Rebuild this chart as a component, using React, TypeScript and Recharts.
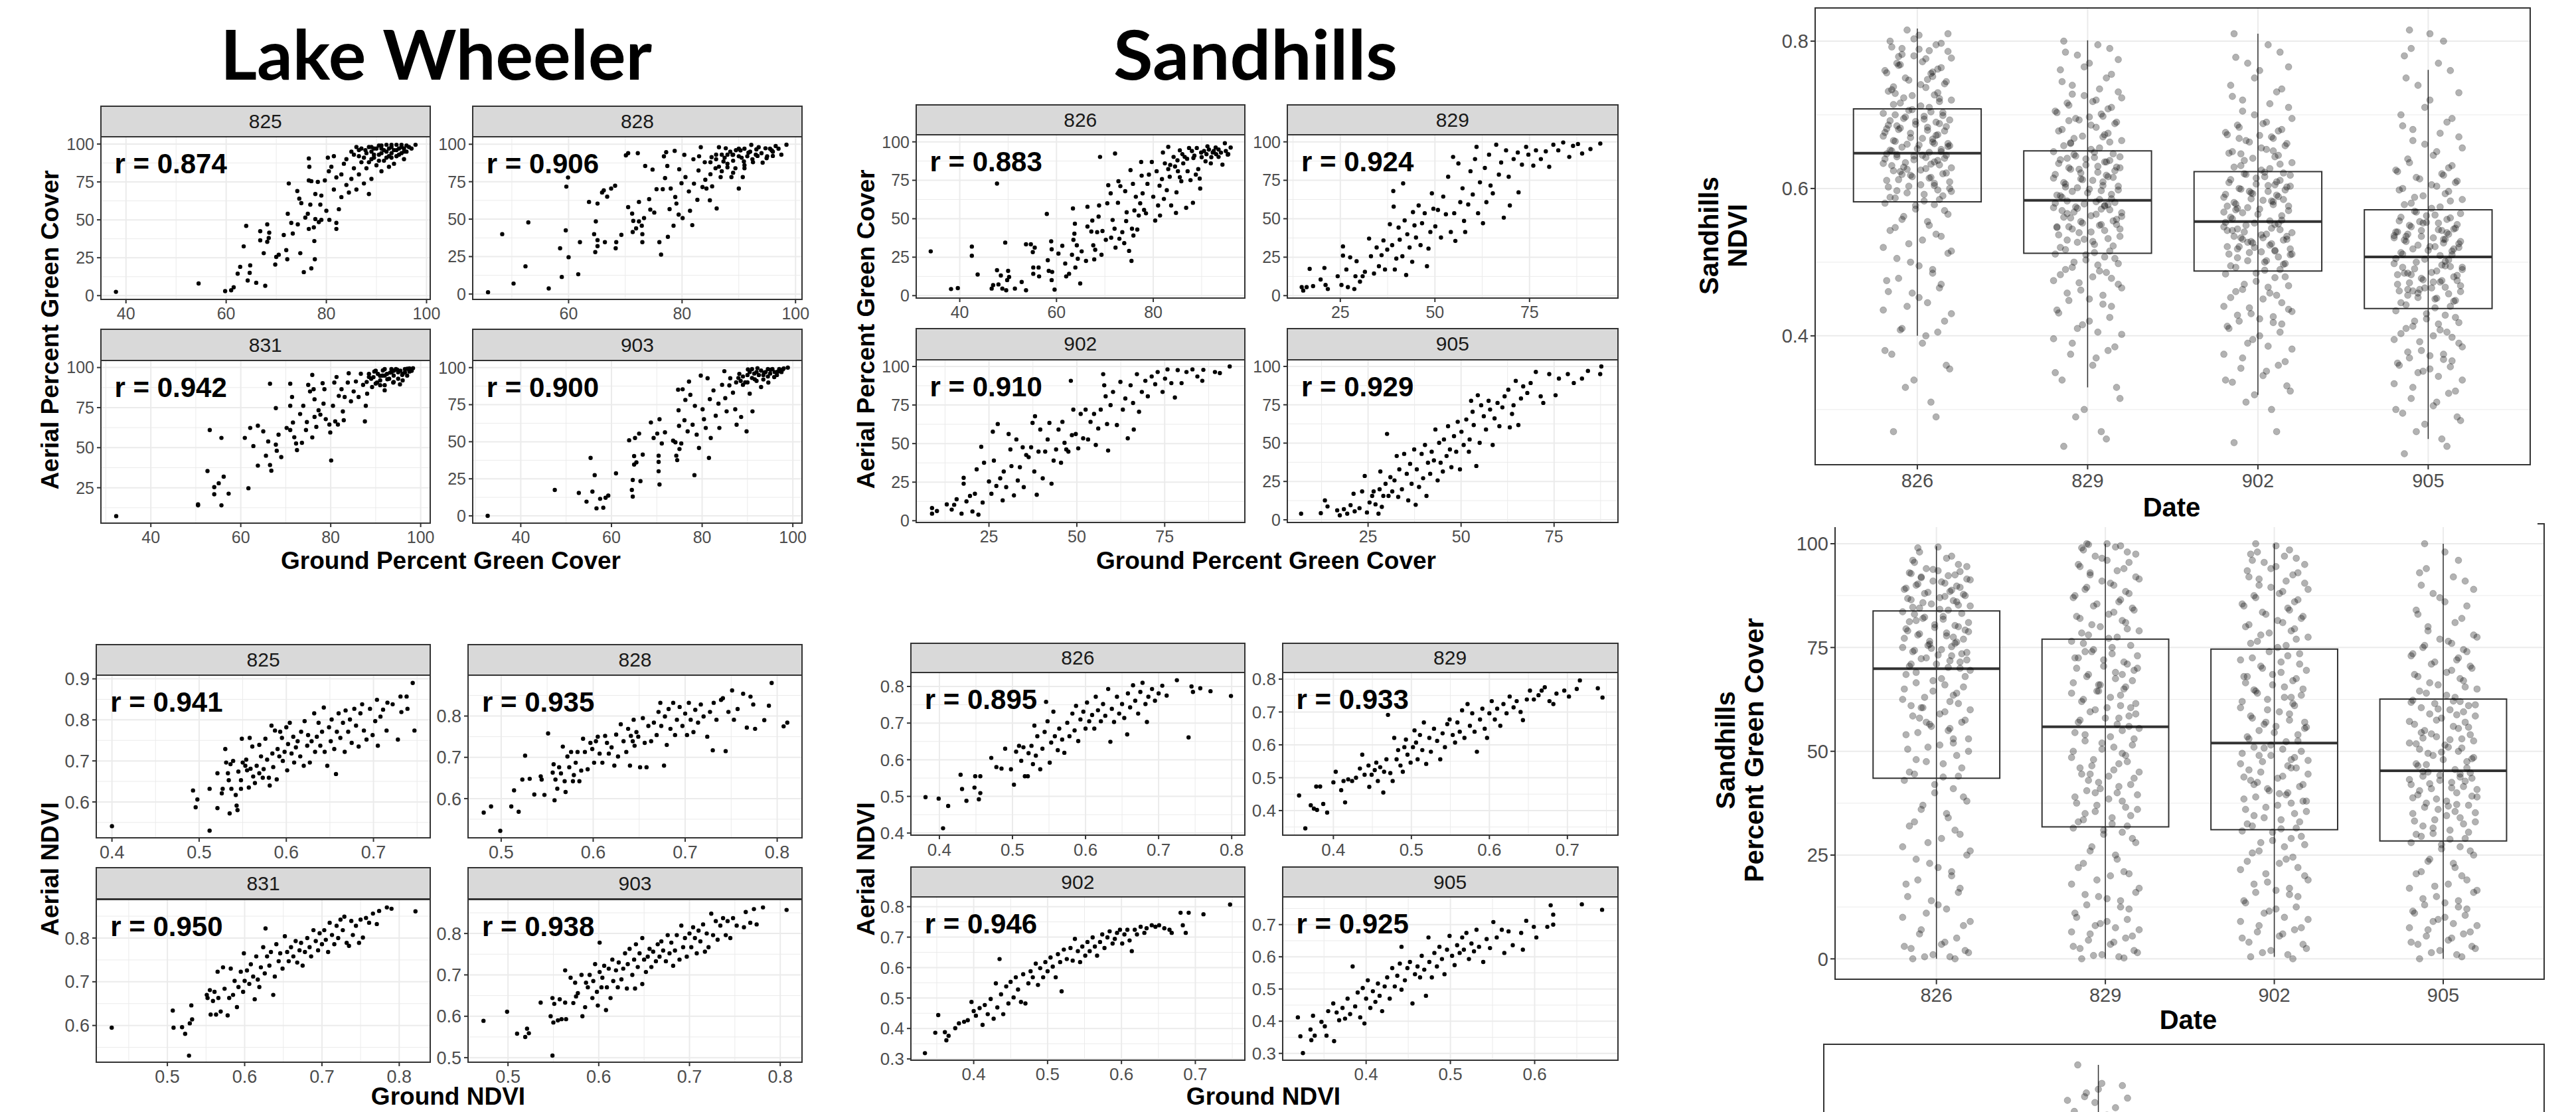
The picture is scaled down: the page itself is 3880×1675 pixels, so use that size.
import React from "react";
import {
  ScatterChart,
  Scatter,
  XAxis,
  YAxis,
  CartesianGrid,
  ReferenceArea,
  ReferenceLine,
} from "recharts";

document.body.style.margin = "0";
document.body.style.overflow = "hidden";

const FONT = "'Liberation Sans', Arial, Helvetica, sans-serif";
const TICK = "#4D4D4D";
const LINE = "#333333";
const GRID = "#EBEBEB";

// ---------- facet labels and correlations ----------
const lwDates = ["825", "828", "831", "903"];
const shDates = ["826", "829", "902", "905"];
const lwPctR = ["0.874", "0.906", "0.942", "0.900"];
const shPctR = ["0.883", "0.924", "0.910", "0.929"];
const lwNdviR = ["0.941", "0.935", "0.950", "0.938"];
const shNdviR = ["0.895", "0.933", "0.946", "0.925"];

// ---------- Lake Wheeler percent green cover (ground, aerial) pairs ----------
const lw825Pct = [38,2.5,54.5,8,59.8,3,61,3.5,61.5,5.5,62.3,14.5,62.8,19,63.5,32.5,64,46,64.3,10,64.7,15,64.8,20,66,8.5,66.8,42.5,66.8,36.5,67.5,28,67.8,6.5,68.2,47,68.2,35.5,68.5,38,68.6,41.5,69.8,20.5,70,25.5,70.5,27,71.5,40,72,30,72.2,24,72.3,54,72.5,74,73,48,73.3,41,74.3,47,74.8,28,74.2,69,74.6,64,75,61,75.5,15.5,75.8,51.5,76.3,54,76.5,44,76.5,76,76.8,60,76.5,90.5,76.6,85,77,75.5,77.5,45,77.7,24,77.6,36,77.8,67,77.8,50.5,77,18,78.3,75,78.5,48.5,78.8,60,79,66,79,50,79.7,76,80,56,80.3,91,80.5,82,81,85,80.6,50,81.5,92,81.5,70,82,44,82,78,82,48,82.5,57,83,65,83,80,83.5,87,84,73,84,90,84.5,68,85,95,85,77,85.5,84,86,70,86.5,92,86.5,80,87,88,87.5,74,87.8,96,88,84,88.5,67,89,90,89,77,89.5,97,90,86,90.5,93,91,82,91,97,91.5,89,92,95,92.5,85,93,98,93,91,93.5,87,94,96,94.5,93,95,98,95.5,90,95.5,95,96,99,97.8,99.5,86,98,88.5,98,90.5,99,92,99.5,94,99.5,89.5,93,92.5,92,85.5,93,86.5,96,87.5,91,88,94,88.5,88,89,95,89.5,91,90,97,90.5,89,91,94,91.5,96,92,91,92.5,97,93,94,93.5,96,94,92,94.5,97,95,94,95.5,97,96,95,96.5,98,97,97,91,99,89,98,87,97,93,99.5,95,99.5];
const lw828Pct = [45.8,1.2,48.3,40,50.3,7,52.4,18.5,52.9,47.8,56.5,3.7,58.5,30.5,58.8,11.4,59.5,42.5,59.6,71.7,59.9,77.8,60,24.6,61.7,13.2,62,34.6,63.6,61.5,64.5,40,64.7,28,64.8,48.5,65.1,60.4,65.1,36,65.1,32,65.9,67.8,66.2,69.2,66.4,34.6,66.8,65,67.5,70.4,68.2,72.3,68.3,30.5,68.4,34.6,69.3,39.5,70.1,92.6,70.5,94,70.5,58,71.2,53.7,71.3,41.4,71.4,48.8,71.9,43.8,72.2,94,72.4,61.5,72.4,48.5,72.9,45.6,73,40,73,34.6,73.3,50.7,73.5,85.5,74.2,63.3,74.4,56.4,74.8,83.1,75.1,54.4,75.5,70,76,34.6,76.3,26.3,76.6,70,76.8,91.9,77,77.4,77.2,94.7,77.4,85.5,77.5,38.2,77.8,56.7,78,70.4,78.5,45.6,78.7,95.6,78.8,64.8,79,60.4,79.4,53,79.5,83.3,79.9,74,80.1,50.7,80.4,92.9,80.6,78.1,81.2,68.5,81.4,55.6,81.8,46,82,90,82.1,73.7,82.7,62.9,82.9,82.5,83.3,98,83.6,71.4,84.1,76.3,84.3,70.4,84.9,62.6,85.2,91.4,85.3,71.9,85.9,84,86.1,57.1,86.5,98,86.8,78.1,87.3,88.5,87.7,97.3,88,84.6,88.7,78.1,88.9,92.9,89.4,84,90,70.4,90.3,95.9,90.7,78.1,90.9,88.5,91.7,94.4,92.2,99.6,92.4,90,93.1,96.6,93.3,92.2,94.2,87.7,94.7,97.3,94.9,90.7,95.8,95.9,96.5,98.8,96,92.2,98.4,99.7,86,90,87,93,88.5,95,89,89,90,92,91,97,86.5,85,84,88,83,92,85,80,87.5,91,88,87,89,93,89.5,96,90.5,91,91,86,91.5,92,92,95,92.5,88,93,93,93.5,98,94,94,95,92,95.5,97,96,95,97,97,97.5,93,90,97,88,93,86,93,85,88,87,82,89,81,91,84];
const lw831Pct = [32.3,7.3,50.5,14.6,50.5,14,52.6,35.4,53.1,61,54.1,25.4,54.1,20.9,55.1,27.8,55.7,56.1,55.7,14,56.2,31.9,57.3,21.3,60.9,56.1,61.7,24.7,62.1,62.3,62.8,51,63.8,63.7,63.8,38.8,65,60.2,65.6,45,66.1,53.9,66.5,89.9,66.5,39.2,66.8,35.6,67.8,74.7,67.8,51.9,68,48.1,68.4,58.1,69,44.1,70.2,62.3,71,89.9,71,61,71,76.1,71.4,81.6,71.6,65.7,71.9,56.5,72.3,52.6,72.5,48.5,73.2,71,73.6,53,73.9,76.1,74.5,61,74.7,66,75,89.2,75.4,85.1,75.9,95.4,75.9,56.4,76.2,86.5,76.4,80.2,76.4,69.2,76.8,63,77.3,73.3,77.7,70.6,78.2,90.2,78.4,77.5,78.6,86.5,78.9,67.8,79.7,64.4,79.9,59.5,80.1,42,80.5,76.1,80.8,90.6,81,66.4,81.3,94.1,81.6,64.4,81.8,82.3,82.4,86.5,82.7,72.6,82.9,67.1,83.1,81.6,83.8,90.6,84,96.4,84.5,78.9,85.1,85.1,85.6,91.3,86.2,81.6,86.7,96.1,87.2,89.2,87.6,66.4,87.8,76.1,88.1,83.7,88.5,94.1,89.2,87.8,89.7,97.5,90.3,90.6,91,94.8,91.6,98.2,92,85.8,92.6,92.7,93.2,96.8,93.9,90.6,94.8,98.6,95.4,89.5,95.9,95.4,97,99.2,98.3,99.6,97.5,97.5,89,93,90.5,96,92,95,93.5,99,95,97,91,89,88,91,88.5,96,89.5,94,90,98,91,92,91.5,95,92,99,92.5,96,93,93,93.5,97,94,95,94.5,99,95,93,95.5,98,96,96,96.5,99,97,95,97.5,99.5,98,98,96,92,94,91,90,90,92,89,94,98,96.5,97];
const lw903Pct = [32.7,0,47.5,17.5,52.8,15.5,54.5,9.6,55.4,39.1,55.8,16.4,56.3,27.5,56.7,5.1,57.5,11.5,58.2,5.5,58.7,12.2,59.3,13.7,61,28.7,63.9,51,64.5,17.5,64.7,24.2,64.7,13,65,34.6,65,40.3,65.2,52.5,65.5,36.1,66.1,55.5,66.4,23.4,66.9,41.3,68.7,63,69.3,52.5,70.1,55.5,70.4,40.6,70.4,36.4,70.4,30.1,70.6,21.2,70.6,65.2,71.1,48.8,71.8,56.3,73.6,50.7,74.1,49.6,74.3,40.6,74.5,37.6,74.7,85.1,74.8,71.2,74.9,60.7,75,45.1,75.4,48.8,75.7,85.4,76.1,64.5,76.3,78.2,76.8,57,77.1,90.6,77.4,81.6,77.9,61.5,78.3,27.5,78.4,74.2,78.8,54.8,79.3,45.8,79.7,94.6,80.1,71.9,80.4,65.2,80.8,59.3,81.2,92.8,81.5,39.1,81.7,78.7,81.9,52.5,82.5,84.6,83,67.5,83.6,75.7,83.8,59.3,84.4,88.4,84.9,97.6,85.1,79.4,85.4,70.5,86.2,92.8,86.8,83.1,87.3,71.9,87.6,61.5,88.2,95.8,88.6,66.7,89,88.4,89.8,57,90.1,98.8,90.5,82.4,91.1,70.5,91.6,92.1,92.2,99.6,93,86.9,93.7,96.6,94.6,89.9,95.1,98.5,95.9,93.6,96.7,97.3,97.8,98.8,98.9,100,88,93,90,95,92,97,93.5,92,89.5,90,86,88,89,94,90.5,97,91,93,91.5,96,92.5,95,93,98,93.5,95,94,97,94.5,94,95,96,95.5,99,96,97,96.5,95,97,99,97.5,97,98,99.5,92,91,90,90,88.5,91,87.5,90,91,99,94.5,99];

// ---------- Sandhills percent green cover (ground, aerial) pairs ----------
const sh826Pct = [34,28.8,38.2,4.3,39.6,4.9,42.5,31.9,42.5,25.9,43.7,13.7,46.6,4.6,46.9,6.8,47.7,72.9,47.7,16.5,48,7.3,48.5,13.1,48.8,4.6,49.4,34.5,49.6,3.5,49.8,10.1,50,16.1,50.2,12.1,51.4,4.6,52.8,8.9,53.7,3.5,53.7,33.4,54.7,33.4,55.1,28.3,55.2,18.3,55.2,14.2,55.5,31.2,56.3,18.3,56.4,12.5,58,53.1,58.2,23,58.4,16.1,58.9,35.3,59,30.1,59,10.1,59.1,15.4,59.6,3.9,60.4,27.3,61.2,32.4,61.8,20.9,62,12.5,62.6,14.2,63.2,26.6,63.4,56.7,63.5,36.3,63.7,40.3,63.8,46.8,63.9,18.3,64.2,32.7,64.4,24,64.9,7.9,65.2,28.8,66.1,22.6,66.4,57.8,66.4,44.9,67.2,41.7,67.4,48.8,67.6,32.7,67.8,23.6,68,29.8,68.4,41.3,68.7,51.4,68.8,58.6,69,90.2,69.3,26.6,69.5,42,70.2,36.3,70.5,60,70.7,71.8,71.2,66.5,71.3,37.7,71.6,49.2,72,43.5,72.1,92.4,72.2,31.2,72.7,60.4,72.8,74.4,73,37,73.2,71.2,73.6,41.3,74,34.1,74.2,67.9,74.4,48.5,74.5,54.2,75,29.1,75.3,81.6,75.5,22.6,75.6,43.5,75.8,72.7,75.9,39.1,76.1,55.4,76.4,64.3,76.7,43,77,52.1,77.3,60,77.5,86.9,77.6,78,77.8,66.5,78.1,55.7,78.5,53.5,78.8,72.7,79.1,78.7,79.7,86.9,80,64.3,80.4,48.8,80.7,80.9,81,58.6,81.3,71.5,81.4,52.1,81.8,75.8,82,93.1,82.2,62.9,82.4,86,82.8,68.6,83.1,96.7,83.1,82.3,83.4,77.3,83.7,58.6,84.2,90.2,84.7,53.8,84.8,67.2,85.1,80.9,85.5,94.5,85.8,74.4,86.2,86,86.5,90.2,86.8,57.1,87.1,80.9,87.4,96,87.7,75.1,88.2,60.4,88.3,89.5,88.8,78.7,89.3,82.3,89.6,76.1,89.7,69.6,89.9,93.1,90.8,87.3,91.2,97.1,91.9,86,92.3,93.1,92.9,96.3,93.5,90.2,94.3,85.2,94.8,99.1,95.4,91.7,96,96.3,85,88,86,92,87,89,88,94,88.5,91,89,96,90,90,90.5,94,91,92,91.5,95,92,90,92.5,94,93,92,93.5,95,94,93,95,94,95.5,92,83.5,85,84.5,84,85.5,77];
const sh829Pct = [14.8,5.5,15.2,3.3,16.1,5.5,16.9,17.4,17.8,6.2,19.8,10.5,20.8,18,21.1,6.9,21.7,4.3,24.3,12.6,25.3,6.9,25.7,32,25.7,26,26.6,17,27,5.5,27.6,24.9,28.7,4.3,29,12.6,29.3,22.4,30.2,9.1,30.9,12.6,31.5,15.5,32.6,37.1,33.1,25.6,33.9,14.4,34.6,31.3,35.2,19.1,35.9,26.3,36.4,35.9,36.8,17,37.4,29.9,38.1,46.4,38.7,32.8,39,68,39.1,57.9,39.4,17,39.8,24.1,40.4,44.3,40.7,36.4,41.4,25.6,41.6,73,42,48.9,42.4,13.4,42.7,39.9,43.3,31.3,44,22,44.2,54.3,44.6,45.7,45,37.8,45.7,58.6,46.2,32.8,46.6,47.1,47.3,53.6,47.9,19.1,48.3,30.6,48.8,41.4,49.2,66.5,49.6,56.5,50.1,45,50.8,55.7,51.6,37.8,52.2,64.4,52.9,52.9,53.5,77.3,54.2,41.4,54.8,90.2,55.1,53.6,55.4,35.6,56.2,85.9,56.7,60.8,57.3,69.8,57.7,48.6,58,41.4,58.8,59.3,59.4,80.9,60,65.8,60.6,88.8,61,96.7,61.4,53.6,61.9,73.7,62.7,47.1,63.2,83,63.6,60.8,64.3,91.7,64.7,71.6,65.3,66.5,66.2,98.1,66.9,78.7,67.5,86.6,68.2,50.7,68.8,94.5,69.5,77.3,69.8,58.6,70.8,88.8,71.9,93.1,72.1,67.2,73,85.2,74.1,96.7,74.7,91.7,76,84.5,76.7,94.5,78,88.8,79.3,93.8,80.2,83.8,81.3,98.1,82.6,94.5,83.9,99.6,85.5,90.2,86.5,97.4,87.8,98.6,88.9,92.4,91.1,95.3,93.7,98.9];
const sh902Pct = [8.8,4.6,8.8,8.2,10.2,6.3,13,10.6,14.4,7.2,15.1,10.3,15.8,13.9,17.2,4.6,17.8,27.8,17.8,24,18.6,12.5,19.6,16.1,20.3,6,21,17.5,21.5,33.3,22,3.9,22.8,47.9,23.2,11.8,23.6,37.6,25,25.4,25.7,17.5,26.1,57.7,26.4,39,27.1,22.5,27.5,62.7,28.2,27.5,28.9,13.2,29.2,31.9,29.9,21.8,30.6,56.2,31.1,46.2,31.4,35.4,32.1,16.4,32.8,52.7,33.2,26.1,33.8,34.7,34.6,47.6,34.9,21.8,35.6,42.6,36.3,41.2,37,47.6,37.4,63.4,37.9,31.9,38.1,67.7,38.6,16.8,39.1,44.8,39.6,59.1,40.3,27.5,41,44.8,41.7,52.7,42.2,63.4,42.8,24,43.4,39,44.1,46.2,44.8,59.1,45.5,37.6,45.9,64.1,46.5,50.5,47,46.2,47.6,44.8,48.3,90.7,48.6,55.5,49,72,49.7,56.2,50.4,46.9,51.1,69.2,51.8,53.4,52.5,72,53.2,52.7,53.9,64.1,54.9,69.2,55.4,49.1,56.1,59.8,56.8,72,57.5,95,57.8,87.8,58.2,80.6,58.6,62.7,58.9,45.5,59.6,74.9,60.3,83.5,61.4,62,62.4,90,63.1,72,63.8,79.2,64.5,53.4,65.3,87.8,66,76.3,66.2,59.1,67.1,95,67.7,70.6,68.5,83.5,69.5,90.7,70.2,80.6,71.3,93.5,72.3,88.5,73,96.4,74.4,83.5,75.1,92.1,75.8,98.1,76.9,89.2,77.9,79.9,78.7,97.6,79.8,89.2,81.2,96.4,82.9,98.1,84.3,93.5,85.7,90.7,86,97.8,89.3,96.4,90.7,95.7,93.5,100];
const sh905Pct = [7,4,12.3,4.3,13.4,12.7,14.1,8.7,16.7,6.2,17.4,2.9,18.5,6.9,19.4,4,20.3,9.5,21.1,17,21.4,5.5,22.7,7.6,23.4,18.5,24.1,28.6,24.7,4.8,25.4,11.3,26.1,15.6,26.5,18.5,27,10.1,27.8,4,28.1,19.9,28.3,31.5,28.7,8.4,29.1,15.6,29.7,23.5,30.1,56,30.5,15.6,31,27.8,31.5,18.5,32.1,25.7,32.7,41.6,33.1,14.9,33.4,32.9,34.1,19.9,34.7,43,35.4,30,35.8,12.7,36.3,36.5,36.7,23.5,37.4,45.9,37.8,9.8,38.1,32.9,38.7,21.4,39.4,43,39.8,27.1,40.3,48.8,40.7,15.6,41.1,37.2,41.7,30,42.1,44.4,42.7,38.7,43.1,58.9,43.7,25.7,44.1,50.2,44.5,37.2,45.1,31.5,45.4,52.4,46.1,41.6,46.5,61,47,45.9,47.4,34.3,48.1,54.5,48.7,44.4,49.1,63.9,49.7,32.9,50.1,57.4,50.7,48.8,51.4,65.4,52.1,44.4,52.3,52.4,52.7,77.6,53.1,70.4,53.4,61.8,54.1,35.1,54.5,81.2,55,50.2,55.4,74.7,56.1,67.5,56.7,58.9,57.4,77.6,57.8,71.9,58.5,48.8,59,66.1,59.8,76.2,60.3,61,61.1,73.3,61.7,80.5,62.7,84.8,63.1,60.3,63.7,69,64.1,74.7,64.7,90.6,65.4,61.8,66.1,79.1,66.7,87,67.8,82.7,68.7,89.2,70.1,96.4,71.4,80.5,72.1,76.2,73.7,95,75.4,81.2,76.3,92.1,78.7,95,80.3,89.2,82.5,92.1,84.1,97.1,87.4,95,87.7,100];

// ---------- Lake Wheeler NDVI (ground, aerial) pairs ----------
const lwN825 = [0.4,0.541,0.493,0.628,0.496,0.587,0.498,0.606,0.512,0.53,0.512,0.632,0.521,0.67,0.521,0.585,0.526,0.621,0.527,0.632,0.53,0.729,0.531,0.696,0.533,0.67,0.534,0.653,0.535,0.572,0.536,0.692,0.537,0.632,0.539,0.7,0.542,0.617,0.543,0.591,0.544,0.58,0.545,0.674,0.548,0.632,0.548,0.653,0.549,0.754,0.55,0.696,0.553,0.688,0.554,0.703,0.555,0.677,0.557,0.635,0.558,0.756,0.559,0.681,0.561,0.735,0.562,0.662,0.564,0.646,0.566,0.688,0.569,0.739,0.569,0.67,0.571,0.711,0.573,0.659,0.574,0.68,0.576,0.754,0.578,0.703,0.58,0.659,0.581,0.64,0.583,0.786,0.584,0.718,0.585,0.685,0.587,0.774,0.589,0.655,0.59,0.729,0.592,0.711,0.593,0.771,0.595,0.756,0.596,0.7,0.598,0.722,0.6,0.782,0.601,0.677,0.602,0.741,0.604,0.793,0.606,0.718,0.608,0.759,0.609,0.696,0.611,0.733,0.613,0.748,0.616,0.711,0.617,0.771,0.62,0.688,0.621,0.797,0.624,0.737,0.625,0.763,0.627,0.696,0.629,0.748,0.632,0.816,0.633,0.722,0.635,0.759,0.637,0.793,0.639,0.737,0.641,0.771,0.643,0.83,0.644,0.722,0.647,0.688,0.649,0.782,0.651,0.748,0.652,0.801,0.655,0.729,0.657,0.668,0.658,0.771,0.66,0.816,0.662,0.756,0.665,0.793,0.667,0.722,0.668,0.823,0.671,0.771,0.673,0.801,0.675,0.744,0.678,0.827,0.68,0.786,0.683,0.735,0.685,0.816,0.687,0.838,0.689,0.774,0.692,0.752,0.696,0.827,0.699,0.763,0.702,0.797,0.704,0.849,0.705,0.737,0.708,0.808,0.711,0.825,0.715,0.774,0.716,0.842,0.722,0.838,0.728,0.752,0.731,0.857,0.732,0.819,0.738,0.857,0.739,0.827,0.745,0.89,0.747,0.774];
const lwN828 = [0.481,0.566,0.489,0.581,0.499,0.522,0.511,0.581,0.514,0.62,0.519,0.568,0.523,0.646,0.526,0.704,0.531,0.648,0.536,0.61,0.543,0.654,0.544,0.646,0.547,0.609,0.551,0.758,0.556,0.663,0.557,0.683,0.558,0.596,0.559,0.646,0.561,0.624,0.563,0.676,0.565,0.661,0.567,0.726,0.569,0.642,0.57,0.616,0.572,0.702,0.574,0.676,0.576,0.713,0.578,0.642,0.579,0.657,0.581,0.687,0.583,0.713,0.585,0.642,0.587,0.668,0.589,0.745,0.591,0.713,0.594,0.671,0.597,0.735,0.599,0.72,0.601,0.687,0.603,0.739,0.605,0.75,0.607,0.709,0.61,0.687,0.613,0.752,0.615,0.735,0.617,0.709,0.62,0.724,0.623,0.68,0.625,0.755,0.627,0.702,0.63,0.78,0.633,0.739,0.636,0.713,0.638,0.769,0.64,0.68,0.641,0.752,0.643,0.739,0.644,0.791,0.645,0.728,0.647,0.761,0.649,0.75,0.651,0.676,0.654,0.795,0.656,0.735,0.658,0.676,0.66,0.776,0.663,0.739,0.666,0.784,0.669,0.754,0.671,0.81,0.673,0.832,0.674,0.776,0.677,0.68,0.678,0.799,0.68,0.73,0.682,0.817,0.684,0.769,0.687,0.832,0.689,0.754,0.691,0.791,0.694,0.822,0.697,0.776,0.7,0.806,0.702,0.754,0.704,0.832,0.706,0.791,0.709,0.761,0.711,0.815,0.714,0.784,0.717,0.828,0.72,0.799,0.724,0.75,0.727,0.81,0.73,0.717,0.731,0.832,0.734,0.791,0.739,0.839,0.741,0.843,0.744,0.715,0.747,0.81,0.751,0.862,0.753,0.791,0.757,0.817,0.763,0.854,0.767,0.772,0.771,0.847,0.774,0.828,0.776,0.769,0.786,0.79,0.791,0.825,0.794,0.88,0.807,0.775,0.811,0.784];
const lwN831 = [0.428,0.595,0.507,0.634,0.508,0.595,0.519,0.596,0.523,0.581,0.528,0.531,0.529,0.605,0.531,0.646,0.532,0.614,0.551,0.67,0.552,0.663,0.555,0.681,0.556,0.625,0.559,0.656,0.561,0.677,0.563,0.625,0.565,0.723,0.566,0.663,0.569,0.632,0.572,0.733,0.574,0.684,0.578,0.623,0.58,0.663,0.582,0.73,0.585,0.67,0.587,0.702,0.59,0.642,0.592,0.688,0.595,0.723,0.598,0.677,0.599,0.765,0.6,0.702,0.603,0.726,0.606,0.695,0.608,0.74,0.611,0.712,0.613,0.66,0.615,0.758,0.617,0.705,0.619,0.688,0.621,0.733,0.624,0.779,0.626,0.719,0.627,0.822,0.629,0.758,0.632,0.737,0.634,0.768,0.637,0.67,0.639,0.712,0.641,0.786,0.644,0.747,0.646,0.765,0.649,0.73,0.652,0.804,0.655,0.768,0.657,0.747,0.66,0.779,0.663,0.758,0.666,0.793,0.668,0.744,0.671,0.772,0.673,0.789,0.675,0.737,0.678,0.768,0.681,0.8,0.684,0.779,0.686,0.758,0.689,0.818,0.692,0.793,0.695,0.772,0.697,0.811,0.7,0.786,0.703,0.818,0.705,0.796,0.708,0.768,0.71,0.835,0.713,0.807,0.716,0.786,0.719,0.828,0.721,0.8,0.724,0.842,0.727,0.818,0.729,0.849,0.732,0.789,0.735,0.782,0.738,0.839,0.74,0.807,0.744,0.828,0.748,0.789,0.75,0.842,0.753,0.801,0.757,0.846,0.761,0.835,0.766,0.856,0.771,0.832,0.774,0.862,0.784,0.87,0.79,0.867,0.821,0.861];
const lwN903 = [0.473,0.589,0.499,0.611,0.51,0.558,0.519,0.55,0.521,0.57,0.523,0.559,0.536,0.633,0.547,0.6,0.549,0.644,0.549,0.505,0.55,0.585,0.551,0.63,0.555,0.59,0.557,0.641,0.559,0.593,0.563,0.633,0.564,0.593,0.563,0.711,0.569,0.693,0.572,0.632,0.574,0.681,0.575,0.648,0.577,0.656,0.581,0.7,0.582,0.6,0.585,0.622,0.586,0.681,0.588,0.67,0.59,0.7,0.593,0.644,0.594,0.685,0.596,0.726,0.598,0.659,0.599,0.626,0.601,0.707,0.601,0.778,0.603,0.67,0.604,0.693,0.606,0.722,0.608,0.615,0.609,0.67,0.611,0.715,0.613,0.644,0.615,0.737,0.616,0.685,0.619,0.711,0.621,0.67,0.622,0.73,0.625,0.689,0.627,0.715,0.629,0.752,0.631,0.667,0.632,0.726,0.634,0.763,0.637,0.7,0.639,0.737,0.64,0.667,0.641,0.774,0.643,0.719,0.645,0.752,0.648,0.678,0.648,0.789,0.65,0.737,0.652,0.707,0.654,0.744,0.656,0.763,0.658,0.719,0.66,0.756,0.663,0.733,0.665,0.774,0.667,0.744,0.669,0.781,0.671,0.759,0.674,0.733,0.676,0.796,0.678,0.752,0.68,0.778,0.682,0.722,0.684,0.759,0.686,0.796,0.689,0.737,0.691,0.819,0.693,0.767,0.695,0.789,0.697,0.744,0.7,0.8,0.702,0.767,0.704,0.815,0.706,0.789,0.708,0.752,0.71,0.807,0.712,0.781,0.715,0.822,0.717,0.756,0.719,0.8,0.721,0.767,0.724,0.848,0.726,0.796,0.729,0.83,0.731,0.785,0.734,0.819,0.737,0.837,0.74,0.796,0.742,0.83,0.745,0.789,0.748,0.837,0.752,0.819,0.76,0.815,0.762,0.852,0.767,0.826,0.771,0.859,0.774,0.822,0.781,0.863,0.807,0.857];

// ---------- Sandhills NDVI (ground, aerial) pairs ----------
const shN826 = [0.381,0.498,0.399,0.494,0.405,0.413,0.412,0.474,0.429,0.559,0.431,0.52,0.437,0.488,0.448,0.524,0.449,0.555,0.454,0.492,0.456,0.509,0.456,0.555,0.471,0.605,0.478,0.58,0.485,0.576,0.49,0.63,0.498,0.574,0.502,0.532,0.505,0.622,0.509,0.638,0.512,0.597,0.515,0.634,0.517,0.555,0.521,0.555,0.522,0.618,0.526,0.638,0.528,0.588,0.53,0.693,0.532,0.611,0.534,0.664,0.538,0.574,0.541,0.63,0.544,0.676,0.546,0.758,0.548,0.705,0.551,0.592,0.553,0.647,0.556,0.731,0.558,0.664,0.562,0.626,0.564,0.685,0.568,0.655,0.571,0.619,0.575,0.701,0.578,0.664,0.582,0.726,0.585,0.68,0.587,0.747,0.59,0.651,0.593,0.71,0.597,0.731,0.6,0.685,0.602,0.756,0.605,0.705,0.609,0.722,0.612,0.685,0.614,0.772,0.617,0.735,0.621,0.705,0.624,0.752,0.627,0.72,0.631,0.793,0.634,0.649,0.636,0.739,0.639,0.703,0.643,0.772,0.646,0.726,0.65,0.752,0.653,0.714,0.657,0.669,0.658,0.781,0.661,0.743,0.665,0.803,0.668,0.761,0.672,0.726,0.675,0.785,0.678,0.81,0.682,0.752,0.684,0.703,0.686,0.772,0.691,0.793,0.695,0.761,0.7,0.781,0.705,0.802,0.711,0.775,0.725,0.817,0.741,0.661,0.745,0.8,0.747,0.785,0.757,0.795,0.771,0.787,0.799,0.774];
const shN829 = [0.356,0.446,0.364,0.346,0.371,0.416,0.375,0.406,0.378,0.473,0.379,0.402,0.383,0.473,0.387,0.42,0.392,0.394,0.4,0.486,0.403,0.518,0.41,0.462,0.413,0.49,0.415,0.425,0.419,0.495,0.424,0.49,0.429,0.5,0.434,0.528,0.437,0.57,0.44,0.509,0.445,0.537,0.446,0.472,0.449,0.509,0.453,0.523,0.455,0.546,0.457,0.49,0.46,0.532,0.464,0.455,0.465,0.518,0.468,0.556,0.47,0.691,0.473,0.514,0.476,0.49,0.478,0.621,0.481,0.556,0.483,0.584,0.486,0.537,0.489,0.518,0.491,0.593,0.493,0.616,0.495,0.57,0.499,0.546,0.502,0.593,0.504,0.644,0.506,0.607,0.508,0.556,0.511,0.63,0.514,0.584,0.516,0.668,0.519,0.542,0.523,0.621,0.525,0.579,0.529,0.649,0.533,0.612,0.537,0.556,0.54,0.635,0.543,0.593,0.546,0.663,0.549,0.677,0.553,0.63,0.556,0.607,0.559,0.668,0.562,0.64,0.565,0.705,0.568,0.621,0.572,0.724,0.575,0.658,0.578,0.696,0.581,0.64,0.584,0.579,0.588,0.677,0.591,0.71,0.594,0.649,0.597,0.621,0.6,0.696,0.603,0.733,0.607,0.677,0.61,0.71,0.614,0.658,0.618,0.724,0.622,0.696,0.626,0.747,0.631,0.714,0.635,0.733,0.64,0.7,0.643,0.675,0.648,0.738,0.652,0.765,0.657,0.738,0.663,0.751,0.667,0.765,0.671,0.775,0.677,0.733,0.682,0.724,0.686,0.756,0.696,0.765,0.702,0.747,0.712,0.77,0.716,0.796,0.739,0.772,0.745,0.744];
const shN902 = [0.334,0.319,0.348,0.386,0.352,0.444,0.361,0.388,0.363,0.361,0.366,0.376,0.375,0.401,0.38,0.417,0.387,0.422,0.392,0.427,0.397,0.487,0.4,0.457,0.403,0.442,0.408,0.467,0.412,0.412,0.415,0.477,0.419,0.447,0.423,0.497,0.427,0.432,0.43,0.548,0.432,0.469,0.435,0.628,0.437,0.512,0.44,0.447,0.444,0.538,0.447,0.482,0.45,0.553,0.454,0.502,0.457,0.568,0.46,0.528,0.464,0.487,0.467,0.578,0.47,0.482,0.474,0.548,0.477,0.588,0.48,0.568,0.484,0.613,0.487,0.543,0.49,0.598,0.494,0.568,0.497,0.618,0.5,0.588,0.504,0.633,0.507,0.603,0.511,0.568,0.514,0.644,0.517,0.618,0.519,0.522,0.522,0.659,0.526,0.628,0.531,0.664,0.534,0.623,0.537,0.694,0.541,0.654,0.544,0.618,0.547,0.669,0.551,0.639,0.554,0.684,0.557,0.654,0.561,0.699,0.564,0.669,0.567,0.639,0.571,0.684,0.574,0.709,0.577,0.664,0.581,0.699,0.584,0.719,0.588,0.679,0.591,0.694,0.594,0.714,0.598,0.724,0.601,0.679,0.604,0.709,0.608,0.724,0.611,0.689,0.614,0.654,0.618,0.724,0.621,0.709,0.626,0.734,0.631,0.714,0.634,0.729,0.641,0.739,0.646,0.734,0.651,0.739,0.658,0.729,0.665,0.724,0.668,0.714,0.68,0.78,0.683,0.739,0.687,0.714,0.691,0.78,0.711,0.775,0.747,0.807];
const shN905 = [0.319,0.412,0.322,0.353,0.325,0.301,0.334,0.374,0.335,0.341,0.337,0.417,0.339,0.355,0.347,0.398,0.351,0.384,0.353,0.355,0.355,0.431,0.361,0.455,0.362,0.338,0.365,0.427,0.368,0.403,0.372,0.441,0.375,0.408,0.378,0.47,0.381,0.422,0.384,0.57,0.387,0.446,0.39,0.489,0.393,0.412,0.396,0.503,0.398,0.393,0.4,0.47,0.402,0.527,0.405,0.441,0.408,0.493,0.411,0.46,0.414,0.517,0.416,0.479,0.419,0.431,0.422,0.508,0.425,0.536,0.428,0.47,0.431,0.565,0.434,0.508,0.437,0.541,0.44,0.579,0.442,0.631,0.442,0.498,0.446,0.527,0.449,0.565,0.452,0.584,0.455,0.455,0.458,0.546,0.461,0.57,0.464,0.536,0.466,0.603,0.469,0.56,0.471,0.479,0.474,0.66,0.475,0.584,0.478,0.536,0.481,0.612,0.484,0.57,0.487,0.631,0.49,0.593,0.493,0.546,0.496,0.622,0.499,0.665,0.502,0.603,0.505,0.574,0.508,0.636,0.511,0.612,0.514,0.66,0.516,0.622,0.519,0.674,0.522,0.593,0.525,0.641,0.528,0.617,0.531,0.684,0.534,0.631,0.539,0.584,0.543,0.655,0.547,0.627,0.551,0.708,0.555,0.66,0.561,0.684,0.564,0.612,0.569,0.679,0.574,0.636,0.584,0.674,0.586,0.622,0.59,0.712,0.599,0.693,0.602,0.66,0.615,0.693,0.619,0.76,0.622,0.731,0.622,0.7,0.656,0.763,0.68,0.746];

// ---------- box plots: Sandhills by date ----------
const ndviLow = [0.4, 0.33, 0.32, 0.26];
const ndviQ1 = [0.582, 0.512, 0.488, 0.437];
const ndviMed = [0.648, 0.584, 0.555, 0.507];
const ndviQ3 = [0.708, 0.651, 0.623, 0.571];
const ndviHigh = [0.817, 0.801, 0.81, 0.761];

const pctLow = [0, 0, 0.5, 0];
const pctQ1 = [43.5, 31.8, 31.1, 28.4];
const pctMed = [69.9, 55.9, 52.0, 45.3];
const pctQ3 = [83.8, 77.0, 74.6, 62.6];
const pctHigh = [99.4, 100, 100, 100];

// horizontal jitter (fraction of a category step) for the two point sets of each cloud
const jitterOffsets = [-0.14,0.08,-0.02,0.17,-0.19,0.05,0.12,-0.09,0.2,-0.06,0.01,-0.17,0.14,-0.11,0.09,-0.04,0.18,-0.2,0.03,0.11,-0.13,0.06,-0.08,0.16,-0.01,0.13,-0.16,0.04,-0.12,0.19,-0.05,0.1,-0.18,0.07,-0.03,0.15,-0.1,0.02,0.2,-0.15,0.08,-0.07,0.12,-0.19,0.05,-0.02,0.17,-0.12,0.1,-0.09,0.14,-0.16,0,0.18,-0.06,0.09,-0.14,0.03,-0.2,0.11,-0.04,0.16,-0.11,0.06,-0.17,0.13,-0.01,0.19,-0.08,0.04,-0.13,0.15,-0.05,0.1,-0.18,0.07,-0.1,0.2,-0.03,0.12,-0.15,0.02,0.17,-0.07,0.08,-0.19,0.14,-0.12,0.05,-0.02,0.18,-0.09,0.11,-0.16,0.01,-0.06,0.13,-0.14,0.09,-0.11];
const jitterOffsetsB = [0.11,-0.07,0.19,-0.15,0.03,-0.1,0.16,-0.2,0.06,-0.03,0.13,-0.18,0.09,0.01,-0.12,0.2,-0.05,0.14,-0.16,0.07,-0.09,0.18,-0.01,0.1,-0.19,0.04,-0.13,0.15,-0.06,0.12,-0.17,0.02,0.19,-0.11,0.08,-0.04,0.17,-0.14,0.05,-0.08,0.13,-0.2,0.1,-0.02,0.16,-0.12,0.03,-0.18,0.2,-0.06,0.07,-0.15,0.14,-0.09,0.01,0.18,-0.13,0.09,-0.04,0.12,-0.19,0.06,-0.1,0.17,-0.01,0.11,-0.16,0.04,-0.07,0.15,-0.2,0.08,-0.03,0.19,-0.12,0.02,-0.14,0.13,-0.08,0.1,-0.17,0.05,0.16,-0.05,0.09,-0.18,0.12,-0.11,0.03,0.2,-0.09,0.07,-0.15,0.14,-0.02,0.18,-0.13,0.06,-0.1,0.01];

const ndvi826 = [0.27,0.31,0.34,0.36,0.38,0.4,0.405,0.41,0.43,0.44,0.452,0.46,0.47,0.478,0.49,0.5,0.512,0.52,0.53,0.538,0.547,0.555,0.562,0.57,0.577,0.585,0.588,0.592,0.597,0.6,0.603,0.607,0.611,0.614,0.616,0.62,0.623,0.625,0.628,0.631,0.633,0.635,0.638,0.64,0.642,0.644,0.645,0.646,0.604,0.619,0.65,0.652,0.654,0.657,0.66,0.663,0.665,0.668,0.671,0.672,0.675,0.678,0.68,0.683,0.686,0.688,0.691,0.693,0.695,0.698,0.7,0.703,0.706,0.661,0.681,0.71,0.716,0.72,0.726,0.73,0.734,0.741,0.745,0.75,0.756,0.76,0.764,0.77,0.776,0.78,0.786,0.79,0.795,0.8,0.808,0.815,0.722,0.738,0.758,0.779];
const ndvi829 = [0.25,0.27,0.3,0.33,0.35,0.37,0.38,0.39,0.402,0.41,0.42,0.431,0.44,0.448,0.455,0.462,0.47,0.475,0.48,0.486,0.49,0.496,0.5,0.505,0.51,0.515,0.52,0.524,0.53,0.535,0.54,0.543,0.547,0.55,0.553,0.556,0.56,0.563,0.567,0.57,0.572,0.575,0.578,0.58,0.582,0.531,0.551,0.566,0.576,0.545,0.586,0.59,0.594,0.598,0.601,0.604,0.608,0.611,0.614,0.618,0.621,0.624,0.628,0.63,0.634,0.638,0.64,0.643,0.646,0.649,0.602,0.615,0.626,0.636,0.591,0.655,0.661,0.665,0.671,0.675,0.68,0.686,0.69,0.695,0.701,0.705,0.71,0.716,0.72,0.726,0.731,0.74,0.75,0.761,0.77,0.781,0.79,0.8,0.67,0.692];
const ndvi902 = [0.255,0.3,0.32,0.332,0.34,0.352,0.36,0.37,0.382,0.39,0.4,0.41,0.416,0.42,0.426,0.43,0.436,0.44,0.45,0.455,0.46,0.466,0.47,0.48,0.485,0.49,0.495,0.5,0.506,0.51,0.513,0.516,0.521,0.523,0.526,0.53,0.533,0.537,0.54,0.543,0.546,0.55,0.552,0.554,0.502,0.52,0.535,0.545,0.515,0.531,0.557,0.561,0.565,0.57,0.574,0.578,0.581,0.584,0.588,0.591,0.594,0.598,0.6,0.604,0.608,0.611,0.614,0.618,0.62,0.622,0.571,0.585,0.596,0.605,0.576,0.627,0.631,0.635,0.641,0.645,0.65,0.655,0.661,0.665,0.67,0.676,0.68,0.686,0.69,0.7,0.71,0.72,0.731,0.74,0.76,0.77,0.785,0.81,0.651,0.668];
const ndvi905 = [0.24,0.26,0.28,0.29,0.3,0.31,0.322,0.33,0.34,0.35,0.355,0.36,0.366,0.37,0.375,0.38,0.39,0.395,0.4,0.405,0.41,0.416,0.42,0.425,0.43,0.44,0.445,0.45,0.455,0.46,0.463,0.466,0.47,0.473,0.476,0.48,0.483,0.486,0.49,0.493,0.496,0.5,0.503,0.505,0.451,0.465,0.475,0.485,0.495,0.461,0.51,0.513,0.516,0.52,0.523,0.526,0.53,0.533,0.536,0.54,0.543,0.546,0.55,0.553,0.556,0.56,0.563,0.566,0.569,0.521,0.535,0.545,0.555,0.531,0.541,0.575,0.58,0.585,0.59,0.596,0.6,0.605,0.61,0.615,0.62,0.625,0.631,0.64,0.65,0.66,0.67,0.68,0.69,0.7,0.72,0.74,0.76,0.78,0.8,0.815];
const ndvi826b = [0.29,0.33,0.355,0.375,0.39,0.408,0.42,0.435,0.445,0.458,0.465,0.475,0.485,0.495,0.505,0.515,0.525,0.535,0.543,0.55,0.558,0.565,0.572,0.578,0.58,0.583,0.587,0.59,0.594,0.598,0.602,0.605,0.609,0.612,0.615,0.618,0.621,0.624,0.627,0.629,0.632,0.634,0.636,0.639,0.641,0.643,0.645,0.647,0.596,0.626,0.649,0.651,0.653,0.656,0.659,0.661,0.664,0.667,0.669,0.673,0.676,0.679,0.682,0.684,0.687,0.69,0.692,0.694,0.697,0.699,0.702,0.704,0.707,0.658,0.685,0.712,0.714,0.718,0.723,0.727,0.732,0.737,0.742,0.747,0.752,0.757,0.762,0.767,0.772,0.777,0.782,0.787,0.792,0.797,0.803,0.81,0.729,0.748,0.768,0.789];
const ndvi829b = [0.26,0.29,0.315,0.34,0.36,0.375,0.385,0.396,0.405,0.415,0.425,0.435,0.443,0.45,0.458,0.465,0.472,0.478,0.483,0.488,0.493,0.498,0.503,0.507,0.511,0.513,0.517,0.522,0.527,0.532,0.537,0.541,0.545,0.548,0.551,0.555,0.558,0.561,0.565,0.568,0.571,0.574,0.577,0.579,0.581,0.583,0.528,0.548,0.562,0.573,0.585,0.588,0.592,0.596,0.599,0.603,0.606,0.609,0.613,0.616,0.619,0.622,0.626,0.629,0.632,0.636,0.639,0.642,0.644,0.647,0.65,0.597,0.612,0.628,0.641,0.653,0.658,0.663,0.668,0.673,0.678,0.683,0.688,0.693,0.698,0.703,0.708,0.713,0.718,0.723,0.728,0.735,0.745,0.755,0.765,0.775,0.785,0.795,0.662,0.697];
const ndvi902b = [0.27,0.31,0.325,0.337,0.346,0.356,0.365,0.375,0.386,0.395,0.405,0.413,0.418,0.423,0.428,0.433,0.438,0.445,0.452,0.458,0.463,0.468,0.474,0.479,0.484,0.489,0.493,0.497,0.502,0.507,0.511,0.514,0.518,0.521,0.525,0.528,0.531,0.535,0.538,0.541,0.544,0.548,0.551,0.553,0.498,0.518,0.533,0.543,0.511,0.527,0.556,0.559,0.563,0.567,0.572,0.576,0.579,0.582,0.586,0.589,0.592,0.596,0.599,0.602,0.606,0.609,0.612,0.616,0.619,0.621,0.568,0.583,0.593,0.603,0.573,0.625,0.629,0.633,0.638,0.643,0.648,0.653,0.658,0.663,0.668,0.673,0.678,0.683,0.688,0.695,0.705,0.715,0.725,0.735,0.75,0.765,0.778,0.795,0.647,0.672];
const ndvi905b = [0.25,0.27,0.285,0.295,0.305,0.315,0.325,0.335,0.345,0.352,0.358,0.363,0.368,0.373,0.378,0.385,0.392,0.398,0.403,0.408,0.413,0.418,0.423,0.428,0.434,0.438,0.442,0.447,0.452,0.457,0.461,0.465,0.468,0.472,0.475,0.478,0.482,0.485,0.488,0.491,0.494,0.498,0.501,0.504,0.448,0.463,0.473,0.483,0.493,0.458,0.509,0.511,0.515,0.518,0.521,0.525,0.528,0.531,0.535,0.538,0.541,0.544,0.548,0.551,0.554,0.558,0.561,0.564,0.568,0.518,0.533,0.543,0.553,0.528,0.538,0.573,0.578,0.583,0.588,0.593,0.598,0.603,0.608,0.613,0.618,0.623,0.628,0.635,0.645,0.655,0.665,0.675,0.685,0.695,0.71,0.73,0.75,0.77,0.79,0.81];

const pct826 = [0,0.5,1,2,3,4,5,7,9,11,13,15,17,19,21,23,25,27,29,31,33,35,37,39,42,44,45,47,48,50,51,52,54,55,56,57,58,59,60,61,62,63,64,65,66,67,68,69,53,60.5,70,70.5,71,72,72.5,73,74,74.5,75,76,76.5,77,78,78.5,79,80,80.5,81,82,82.5,83,73.5,75.5,77.5,79.5,84,84.5,85,85.5,86,86.5,87,87.5,88,88.5,89,89.5,90,90.5,91,91.5,92,92.5,93,93.5,94,95,96,97,99];
const pct829 = [0,0.5,1,2,3,4,5,6,7,8,9,10,12,13,14,15,16,18,20,21,23,25,27,29,31,32,33,34,35,36,37,38,39,40,41,42,43,44,45,46,47,48,49,50,51,52,53,54,55,44.5,56,57,58,59,60,61,62,63,64,65,66,67,68,69,70,71,72,73,74,75,76,60.5,64.5,68.5,72.5,77.5,78,79,80,81,82,83,84,85,86,87,88,89,90,91,92,93,94,95,96,97,98,99,99.5,100];
const pct902 = [0.5,1,2,3.5,5,6,7,8,9.5,11,12,13.5,15,16,17,18.5,20,21.5,23,24.5,25.5,27,28,29.5,30.5,31.5,32.5,33.5,34.5,35.5,36.5,37.5,38.5,39.5,40.5,41.5,42.5,43.5,44.5,45.5,46.5,47.5,48.5,49.5,50.5,51.5,38,42,46,49,52.5,53.5,54.5,55.5,56.5,57.5,58.5,59.5,60.5,61.5,62.5,63.5,64.5,65.5,66.5,67.5,68.5,69.5,70.5,71.5,72.5,73.5,57,63,68,75.5,76.5,77.5,78.5,79.5,80.5,81.5,82.5,83.5,84.5,85.5,86.5,87.5,88.5,89.5,90.5,91.5,92.5,93.5,94.5,95.5,96.5,97.5,98.5,100];
const pct905 = [0,1,2,3,4,5,6,7,8,9,10,11,12,13,14,15,16,17,18,20,21,23,24,26,27.5,29,30,31,32,33,33.5,34,35,35.5,36,37,37.5,38,39,39.5,40,41,41.5,42,42.5,43,43.5,44,44.5,45,46,47,48,48.5,49,50,50.5,51,52,53,53.5,54,55,56,56.5,57,58,58.5,59,60,60.5,61,61.5,62,62.3,63,64,65,66,67,68,69,70,71,72,73,74,75,76,77,78,80,82,84,86,88,91,93,96,100];
const pct826b = [0,0.5,1.5,2.5,3.5,6,8,10,12,14,16,18,20,22,24,26,28,30,32,34,36,38,40,41,43,43.8,44.5,46,47.5,49,50.5,51.5,53,54.5,55.5,56.5,57.5,58.5,59.5,60.5,61.5,62.5,63.5,64.5,65.5,66.5,67.5,68.5,69.5,57,70.2,71,71.5,72.3,73.2,73.8,74.3,75.2,75.8,76.3,77.2,77.8,78.3,79.2,79.8,80.3,81.2,81.8,82.3,83.2,83.6,71.8,74.8,78.8,81.5,84.2,84.7,85.2,85.8,86.3,86.8,87.3,87.8,88.3,88.8,89.3,89.8,90.3,90.8,91.3,91.8,92.3,92.8,93.3,93.8,94.5,95.5,96.5,98,99.2];
const pct829b = [0.2,0.8,1.5,2.5,3.5,4.5,5.5,6.5,7.5,8.5,9.5,11,12.5,14.5,15.5,17,19,20.5,22,24,26,28,30,30.5,31.5,32.5,33.5,34.5,35.5,36.5,37.5,38.5,39.5,40.5,41.5,42.5,43.5,44.5,45.5,46.5,47.5,48.5,49.5,50.5,51.5,52.5,53.5,54.5,55.5,40,56.5,57.5,58.5,59.5,60.5,61.5,62.5,63.5,64.5,65.5,66.5,67.5,68.5,69.5,70.5,71.5,72.5,73.5,74.5,75.5,76.5,58,66,70,74,77.2,78.5,79.5,80.5,81.5,82.5,83.5,84.5,85.5,86.5,87.5,88.5,89.5,90.5,91.5,92.5,93.5,94.5,95.5,96.5,97.5,98.5,99.2,99.8,100];
const pct902b = [0,1.5,2.5,4,5.5,6.5,7.5,9,10,11.5,12.5,14,15.5,16.5,18,19,20.5,22,23.5,24,26,27.5,28.5,29,30.8,31.3,32,33,34,35,36,37,38,39,40,41,42,43,44,45,46,47,48,49,50,51,39.8,43.8,47.8,50.8,52.3,53,54,55,56,57,58,59,60,61,62,63,64,65,66,67,68,69,70,71,72,73,74,55.8,64.8,75,76,77,78,79,80,81,82,83,84,85,86,87,88,89,90,91,92,93,94,95,96,97,98,99.5];
const pct905b = [0.5,1.5,2.5,3.5,4.5,5.5,6.5,7.5,8.5,9.5,10.5,11.5,12.5,13.5,14.5,16.5,17.5,19,20.5,22,23.5,25,26.5,27,28,28.8,29.5,30.5,31.5,32.5,33.2,34.5,35.2,36.5,37.2,38.5,39.2,40.5,41.2,42.2,42.8,43.2,43.8,44.2,44.8,45.1,36.8,38.8,40.8,30.2,45.6,46.5,47.5,49.5,51.5,52.5,54.5,55.5,57.5,59.5,61.8,62.1,46.8,48.2,49.8,50.8,51.8,52.8,54.2,55.8,57.2,58.8,60.2,61.2,53.2,63.5,64.5,65.5,66.5,67.5,68.5,69.5,70.5,71.5,72.5,73.5,74.5,75.5,76.5,77.5,79,81,83,85,87,89,90,92,94,98];

// partial third box plot at the bottom edge (only its top shows)
const gWhiskerTop = 0.828;
const gOffsets = [-0.12, 0.02, 0.14, -0.07, 0.0, -0.18, -0.08, 0.17, -0.02, 0.1, -0.14, 0.05];
const gValues = [0.828, 0.803, 0.8, 0.79, 0.795, 0.78, 0.785, 0.783, 0.777, 0.77, 0.765, 0.76];

// ---------- helpers ----------
const toXY = (a: number[]) => {
  const out: { x: number; y: number }[] = [];
  for (let i = 0; i + 1 < a.length; i += 2) out.push({ x: a[i], y: a[i + 1] });
  return out;
};

const minorOf = (t: number[], d: [number, number]) => {
  const s = t[1] - t[0];
  const out: number[] = [];
  [t[0] - s, ...t].forEach((v) => {
    const m = v + s / 2;
    if (m > d[0] && m < d[1]) out.push(m);
  });
  return out;
};

const Dot = (p: any) => <circle cx={p.cx} cy={p.cy} r={3.2} fill="#000" />;
const JitterDot = (p: any) => (
  <circle cx={p.cx} cy={p.cy} r={5} fill="#000" fillOpacity={0.3} stroke="#000" strokeOpacity={0.18} strokeWidth={1} />
);

type FacetSpec = {
  label: string;
  r: string;
  pts: number[];
  x: number;
  w: number;
  sy: number;
  y: number;
  h: number;
  xd: [number, number];
  xt: number[];
  yd: [number, number];
  yt: number[];
  fs: number;
};

const pctT = [0, 25, 50, 75, 100];

const facets: FacetSpec[] = [
  { label: lwDates[0], r: lwPctR[0], pts: lw825Pct, x: 151.5, w: 496.5, sy: 160, y: 205.7, h: 245, xd: [35, 100.8], xt: [40, 60, 80, 100], yd: [-2.5, 104.8], yt: pctT, fs: 25 },
  { label: lwDates[1], r: lwPctR[1], pts: lw828Pct, x: 711.7, w: 496.5, sy: 160, y: 205.7, h: 245, xd: [43.1, 101.2], xt: [60, 80, 100], yd: [-3.6, 105], yt: pctT, fs: 25 },
  { label: lwDates[2], r: lwPctR[2], pts: lw831Pct, x: 151.5, w: 496.5, sy: 496, y: 543.3, h: 245, xd: [28.9, 102.2], xt: [40, 60, 80, 100], yd: [2.9, 104.4], yt: [25, 50, 75, 100], fs: 25 },
  { label: lwDates[3], r: lwPctR[3], pts: lw903Pct, x: 711.7, w: 496.5, sy: 496, y: 543.3, h: 245, xd: [29.4, 102.1], xt: [40, 60, 80, 100], yd: [-4.9, 104.8], yt: pctT, fs: 25 },

  { label: shDates[0], r: shPctR[0], pts: sh826Pct, x: 1379.5, w: 495.5, sy: 158.3, y: 203.3, h: 246, xd: [31, 99], xt: [40, 60, 80], yd: [-1.6, 104.6], yt: pctT, fs: 25 },
  { label: shDates[1], r: shPctR[1], pts: sh829Pct, x: 1939, w: 497.6, sy: 158.3, y: 203.3, h: 246, xd: [11, 98.3], xt: [25, 50, 75], yd: [-1.6, 104.6], yt: pctT, fs: 25 },
  { label: shDates[2], r: shPctR[2], pts: sh902Pct, x: 1379.5, w: 495.5, sy: 495, y: 541.7, h: 245.6, xd: [4.3, 97.9], xt: [25, 50, 75], yd: [-1.4, 104.3], yt: pctT, fs: 25 },
  { label: shDates[3], r: shPctR[3], pts: sh905Pct, x: 1939, w: 497.6, sy: 495, y: 541.7, h: 245.6, xd: [3.3, 92.1], xt: [25, 50, 75], yd: [-2, 104.3], yt: pctT, fs: 25 },

  { label: lwDates[0], r: lwNdviR[0], pts: lwN825, x: 145.2, w: 502.9, sy: 970.8, y: 1017, h: 245, xd: [0.382, 0.765], xt: [0.4, 0.5, 0.6, 0.7], yd: [0.5125, 0.909], yt: [0.6, 0.7, 0.8, 0.9], fs: 27 },
  { label: lwDates[1], r: lwNdviR[1], pts: lwN828, x: 705, w: 503, sy: 970.8, y: 1017, h: 245, xd: [0.464, 0.827], xt: [0.5, 0.6, 0.7, 0.8], yd: [0.505, 0.899], yt: [0.6, 0.7, 0.8], fs: 27 },
  { label: lwDates[2], r: lwNdviR[2], pts: lwN831, x: 145.2, w: 502.9, sy: 1307.4, y: 1354.5, h: 245, xd: [0.408, 0.84], xt: [0.5, 0.6, 0.7, 0.8], yd: [0.516, 0.888], yt: [0.6, 0.7, 0.8], fs: 27 },
  { label: lwDates[3], r: lwNdviR[3], pts: lwN903, x: 705, w: 503, sy: 1307.4, y: 1354.5, h: 245, xd: [0.456, 0.824], xt: [0.5, 0.6, 0.7, 0.8], yd: [0.489, 0.882], yt: [0.5, 0.6, 0.7, 0.8], fs: 27 },

  { label: shDates[0], r: shNdviR[0], pts: shN826, x: 1371.8, w: 503, sy: 968.5, y: 1013.3, h: 245.1, xd: [0.361, 0.818], xt: [0.4, 0.5, 0.6, 0.7, 0.8], yd: [0.394, 0.838], yt: [0.4, 0.5, 0.6, 0.7, 0.8], fs: 26 },
  { label: shDates[1], r: shNdviR[1], pts: shN829, x: 1931.5, w: 505.2, sy: 968.5, y: 1013.3, h: 245.1, xd: [0.335, 0.765], xt: [0.4, 0.5, 0.6, 0.7], yd: [0.325, 0.82], yt: [0.4, 0.5, 0.6, 0.7, 0.8], fs: 26 },
  { label: shDates[2], r: shNdviR[2], pts: shN902, x: 1371.8, w: 503, sy: 1306, y: 1351.3, h: 245.9, xd: [0.315, 0.767], xt: [0.4, 0.5, 0.6, 0.7], yd: [0.296, 0.832], yt: [0.3, 0.4, 0.5, 0.6, 0.7, 0.8], fs: 26 },
  { label: shDates[3], r: shNdviR[3], pts: shN905, x: 1931.5, w: 505.2, sy: 1306, y: 1351.3, h: 245.9, xd: [0.301, 0.699], xt: [0.4, 0.5, 0.6], yd: [0.279, 0.786], yt: [0.3, 0.4, 0.5, 0.6, 0.7], fs: 26 },
];

const YW = 70;
const XH = 44;
const PAD = 8;
const PADR = 32;

const tickStyle = (size: number) => ({ fill: TICK, fontSize: size, fontFamily: FONT });

function Facet({ p }: { p: FacetSpec }) {
  const data = toXY(p.pts);
  return (
    <>
      <div
        style={{
          position: "absolute",
          left: p.x - 1,
          top: p.sy - 1,
          width: p.w + 2,
          height: p.y - p.sy + 2,
          background: "#D9D9D9",
          border: `2px solid ${LINE}`,
          boxSizing: "border-box",
          display: "flex",
          alignItems: "center",
          justifyContent: "center",
          fontFamily: FONT,
          fontSize: 30,
          color: "#1A1A1A",
        }}
      >
        {p.label}
      </div>
      <div style={{ position: "absolute", left: p.x - YW, top: p.y - PAD }}>
        <ScatterChart width={YW + p.w + PADR} height={PAD + p.h + XH} margin={{ top: PAD, right: PADR, bottom: 0, left: 0 }}>
          <CartesianGrid stroke={GRID} strokeWidth={1} horizontalValues={minorOf(p.yt, p.yd)} verticalValues={minorOf(p.xt, p.xd)} />
          <CartesianGrid stroke={GRID} strokeWidth={2} horizontalValues={p.yt} verticalValues={p.xt} />
          <XAxis
            type="number"
            dataKey="x"
            domain={p.xd}
            ticks={p.xt}
            allowDataOverflow
            interval={0}
            height={XH}
            axisLine={false}
            tickLine={{ stroke: LINE, strokeWidth: 2 }}
            tickSize={6}
            tickMargin={6}
            tick={tickStyle(p.fs)}
          />
          <YAxis
            type="number"
            dataKey="y"
            domain={p.yd}
            ticks={p.yt}
            allowDataOverflow
            interval={0}
            width={YW}
            axisLine={false}
            tickLine={{ stroke: LINE, strokeWidth: 2 }}
            tickSize={6}
            tickMargin={4}
            tick={tickStyle(p.fs)}
          />
          <Scatter data={data} isAnimationActive={false} shape={Dot} />
        </ScatterChart>
      </div>
      <div
        style={{
          position: "absolute",
          left: p.x - 1,
          top: p.y - 1,
          width: p.w + 2,
          height: p.h + 2,
          border: `2px solid ${LINE}`,
          boxSizing: "border-box",
          pointerEvents: "none",
        }}
      />
    </>
  );
}

type BoxSpec = {
  px: number;
  py: number;
  pw: number;
  ph: number;
  yd: [number, number];
  yt: number[];
  low: number[];
  q1: number[];
  med: number[];
  q3: number[];
  high: number[];
  vals: number[][];
  vals2: number[][];
};

const BYW = 75;
const BXH = 50;

function BoxPanel({ s }: { s: BoxSpec }) {
  const pts = [
    ...s.vals.flatMap((vs, k) => vs.map((v, j) => ({ x: k + 1 + jitterOffsets[j % jitterOffsets.length], y: v }))),
    ...s.vals2.flatMap((vs, k) => vs.map((v, j) => ({ x: k + 1 + jitterOffsetsB[j % jitterOffsetsB.length], y: v }))),
  ];
  return (
    <>
      <div style={{ position: "absolute", left: s.px - BYW, top: s.py - PAD, background: "#fff" }}>
        <ScatterChart width={BYW + s.pw + PAD} height={PAD + s.ph + BXH} margin={{ top: PAD, right: PAD, bottom: 0, left: 0 }}>
          <CartesianGrid stroke={GRID} strokeWidth={1} horizontalValues={minorOf(s.yt, s.yd)} vertical={false} />
          <CartesianGrid stroke={GRID} strokeWidth={2} horizontalValues={s.yt} verticalValues={[1, 2, 3, 4]} />
          <XAxis
            type="number"
            dataKey="x"
            domain={[0.4, 4.6]}
            ticks={[1, 2, 3, 4]}
            tickFormatter={(v: number) => shDates[v - 1]}
            allowDataOverflow
            interval={0}
            height={BXH}
            axisLine={false}
            tickLine={{ stroke: LINE, strokeWidth: 2 }}
            tickSize={7}
            tickMargin={6}
            tick={tickStyle(29)}
          />
          <YAxis
            type="number"
            dataKey="y"
            domain={s.yd}
            ticks={s.yt}
            allowDataOverflow
            interval={0}
            width={BYW}
            axisLine={false}
            tickLine={{ stroke: LINE, strokeWidth: 2 }}
            tickSize={7}
            tickMargin={3}
            tick={tickStyle(29)}
          />
          {s.q1.map((q, k) => (
            <ReferenceArea key={`b${k}`} x1={k + 0.625} x2={k + 1.375} y1={q} y2={s.q3[k]} fill="none" fillOpacity={0} stroke={LINE} strokeWidth={2} />
          ))}
          {s.low.map((lo, k) => (
            <ReferenceLine key={`w${k}`} segment={[{ x: k + 1, y: lo }, { x: k + 1, y: s.high[k] }]} stroke={LINE} strokeWidth={1.5} />
          ))}
          {s.med.map((m, k) => (
            <ReferenceLine key={`m${k}`} segment={[{ x: k + 0.625, y: m }, { x: k + 1.375, y: m }]} stroke={LINE} strokeWidth={4} />
          ))}
          <Scatter data={pts} isAnimationActive={false} shape={JitterDot} />
        </ScatterChart>
      </div>
      <div
        style={{
          position: "absolute",
          left: s.px - 1,
          top: s.py - 1,
          width: s.pw + 2,
          height: s.ph + 2,
          border: `2px solid ${LINE}`,
          boxSizing: "border-box",
          pointerEvents: "none",
        }}
      />
    </>
  );
}

const ndviBox: BoxSpec = {
  px: 2734, py: 12.4, pw: 1077.3, ph: 688.1,
  yd: [0.225, 0.845], yt: [0.4, 0.6, 0.8],
  low: ndviLow, q1: ndviQ1, med: ndviMed, q3: ndviQ3, high: ndviHigh,
  vals: [ndvi826, ndvi829, ndvi902, ndvi905],
  vals2: [ndvi826b, ndvi829b, ndvi902b, ndvi905b],
};

const pctBox: BoxSpec = {
  px: 2763.7, py: 788.6, pw: 1068.7, ph: 686.6,
  yd: [-5, 104.8], yt: pctT,
  low: pctLow, q1: pctQ1, med: pctMed, q3: pctQ3, high: pctHigh,
  vals: [pct826, pct829, pct902, pct905],
  vals2: [pct826b, pct829b, pct902b, pct905b],
};

function PartialBox() {
  const px = 2746.8, py = 1573.4, pw = 1085.6, ph = 700;
  const yd: [number, number] = [0.226, 0.856];
  const pts = gOffsets.map((o, i) => ({ x: 2 + o, y: gValues[i] }));
  return (
    <>
      <div style={{ position: "absolute", left: px - BYW, top: py - PAD }}>
        <ScatterChart width={BYW + pw + PAD} height={PAD + ph + BXH} margin={{ top: PAD, right: PAD, bottom: 0, left: 0 }}>
          <CartesianGrid stroke={GRID} strokeWidth={1} horizontalValues={[0.3, 0.5, 0.7]} vertical={false} />
          <CartesianGrid stroke={GRID} strokeWidth={2} horizontalValues={[0.4, 0.6, 0.8]} verticalValues={[1, 2, 3, 4]} />
          <XAxis type="number" dataKey="x" domain={[0.4, 4.6]} ticks={[1, 2, 3, 4]} allowDataOverflow height={BXH} axisLine={false} tick={false} tickLine={false} />
          <YAxis type="number" dataKey="y" domain={yd} ticks={[0.4, 0.6, 0.8]} allowDataOverflow width={BYW} axisLine={false} tick={false} tickLine={false} />
          <ReferenceLine segment={[{ x: 2, y: 0.3 }, { x: 2, y: gWhiskerTop }]} stroke={LINE} strokeWidth={1.5} />
          <Scatter data={pts} isAnimationActive={false} shape={JitterDot} />
        </ScatterChart>
      </div>
      <div
        style={{
          position: "absolute",
          left: px - 1,
          top: py - 1,
          width: pw + 2,
          height: ph + 2,
          border: `2px solid ${LINE}`,
          boxSizing: "border-box",
          pointerEvents: "none",
        }}
      />
    </>
  );
}

const VText = ({ bx, cy, size, children }: { bx: number; cy: number; size: number; children: React.ReactNode }) => (
  <text transform={`translate(${bx},${cy}) rotate(-90)`} textAnchor="middle" fontFamily={FONT} fontWeight="bold" fontSize={size} fill="#000">
    {children}
  </text>
);

const HText = ({ cx, by, size, children }: { cx: number; by: number; size: number; children: React.ReactNode }) => (
  <text x={cx} y={by} textAnchor="middle" fontFamily={FONT} fontWeight="bold" fontSize={size} fill="#000">
    {children}
  </text>
);

export default function App() {
  return (
    <div style={{ position: "relative", width: 3880, height: 1675, overflow: "hidden", background: "#fff" }}>
      <PartialBox />
      <BoxPanel s={pctBox} />
      <div style={{ position: "absolute", left: 2550, top: 0, width: 1272, height: 794, background: "#fff" }} />
      <BoxPanel s={ndviBox} />
      {facets.map((p, i) => (
        <Facet key={i} p={p} />
      ))}
      <svg width={3880} height={1675} style={{ position: "absolute", left: 0, top: 0, pointerEvents: "none" }}>
        <text x={657} y={120} textAnchor="middle" fontFamily="Lato, 'Open Sans', sans-serif" fontWeight="bold" fontSize={104} textLength={650} lengthAdjust="spacingAndGlyphs">
          Lake Wheeler
        </text>
        <text x={1891} y={120} textAnchor="middle" fontFamily="Lato, 'Open Sans', sans-serif" fontWeight="bold" fontSize={104} textLength={428} lengthAdjust="spacingAndGlyphs">
          Sandhills
        </text>

        <VText bx={88} cy={497} size={37}>Aerial Percent Green Cover</VText>
        <HText cx={679} by={857} size={37}>Ground Percent Green Cover</HText>
        <VText bx={1317} cy={496} size={37}>Aerial Percent Green Cover</VText>
        <HText cx={1907} by={857} size={37}>Ground Percent Green Cover</HText>

        <VText bx={88} cy={1309} size={37}>Aerial NDVI</VText>
        <HText cx={675} by={1664} size={37}>Ground NDVI</HText>
        <VText bx={1317} cy={1309} size={37}>Aerial NDVI</VText>
        <HText cx={1903} by={1664} size={37}>Ground NDVI</HText>

        <VText bx={2588} cy={355} size={40}>Sandhills</VText>
        <VText bx={2631} cy={355} size={40}>NDVI</VText>
        <HText cx={3271} by={778} size={40}>Date</HText>

        <VText bx={2613} cy={1130} size={40}>Sandhills</VText>
        <VText bx={2656} cy={1130} size={40}>Percent Green Cover</VText>
        <HText cx={3296} by={1550} size={40}>Date</HText>

        {facets.map((p, i) => (
          <text key={`r${i}`} x={p.x + 21} y={p.y + 55} fontFamily={FONT} fontWeight="bold" fontSize={42} fill="#000">
            {`r = ${p.r}`}
          </text>
        ))}
      </svg>
    </div>
  );
}
